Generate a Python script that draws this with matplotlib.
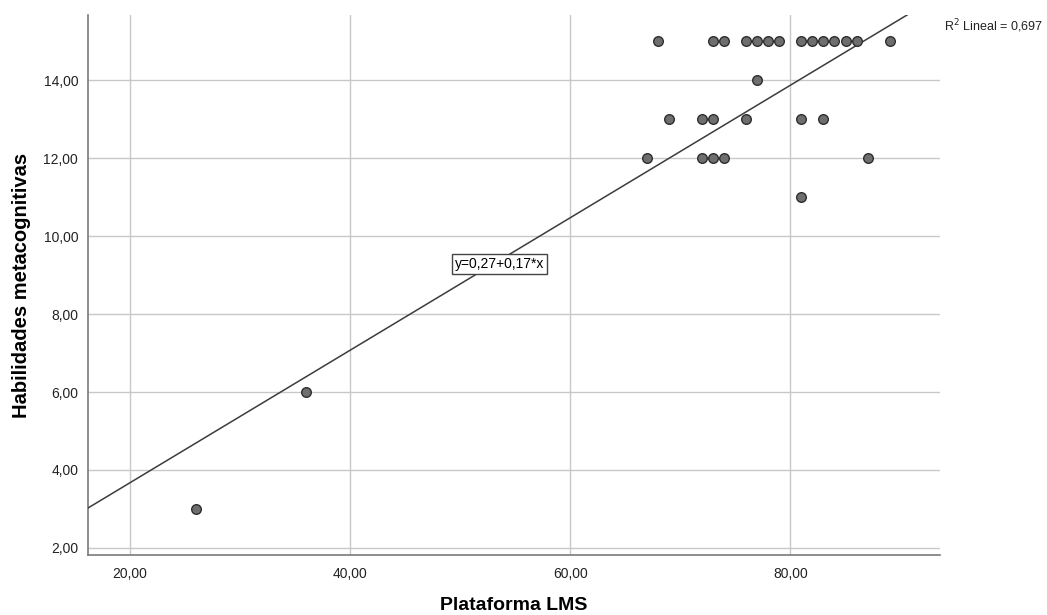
import numpy as np
import matplotlib.pyplot as plt
from matplotlib.ticker import FuncFormatter

plt.rcParams['font.family'] = ['Liberation Sans', 'DejaVu Sans']

# Plataforma LMS (x) vs Habilidades metacognitivas (y)
lms = [68, 73, 74, 76, 77, 78, 79, 81, 82, 83, 84, 85, 86, 89,
       77,
       69, 72, 73, 76, 81, 83,
       67, 72, 73, 74, 87,
       81, 36, 26]
hab = [15, 15, 15, 15, 15, 15, 15, 15, 15, 15, 15, 15, 15, 15,
       14,
       13, 13, 13, 13, 13, 13,
       12, 12, 12, 12, 12,
       11, 6, 3]

# fit line as printed on the chart
intercept, slope = 0.27, 0.17

x_ticks = [20, 40, 60, 80]
y_ticks = [2, 4, 6, 8, 10, 12, 14]

x = np.array(lms, dtype=float)
y = np.array(hab, dtype=float)

fig = plt.figure(figsize=(10.47, 6.15), dpi=100)
ax = fig.add_axes([0.084, 0.0976, 0.814, 0.878])

xmin, xmax = 16.2, 93.6
ax.set_xlim(xmin, xmax)
ax.set_ylim(1.82, 15.67)

ax.set_xticks(x_ticks)
ax.set_yticks(y_ticks)
fmt = FuncFormatter(lambda v, p: ('%.2f' % v).replace('.', ','))
ax.xaxis.set_major_formatter(fmt)
ax.yaxis.set_major_formatter(fmt)
ax.tick_params(length=0, labelsize=10, colors='#222222')
ax.tick_params(axis='y', pad=7)
ax.tick_params(axis='x', pad=9)

ax.grid(True, color='#c8c8c8', linewidth=1)
ax.set_axisbelow(True)
for s in ['top', 'right']:
    ax.spines[s].set_visible(False)
for s in ['left', 'bottom']:
    ax.spines[s].set_color('#7a7a7a')
    ax.spines[s].set_linewidth(1.2)

xs = np.array([xmin, xmax])
ax.plot(xs, intercept + slope * xs, color='#3c3c3c', linewidth=1.1, zorder=3)

ax.scatter(x, y, s=48, color='#6e6e6e', edgecolors='#2e2e2e', linewidths=1.0, zorder=4)

ax.text(53.6, 9.28, 'y=0,27+0,17*x', fontsize=10, ha='center', va='center',
        bbox=dict(boxstyle='square,pad=0.2', facecolor='white', edgecolor='#444444', linewidth=1),
        zorder=5)

fig.text(0.9485, 0.958, 'R$^2$ Lineal = 0,697', fontsize=9, ha='center', va='center', color='#222222')

ax.set_xlabel('Plataforma LMS', fontsize=14, fontweight='bold', labelpad=11)
ax.set_ylabel('Habilidades metacognitivas', fontsize=14.5, fontweight='bold', labelpad=9)

fig.savefig('out.png', dpi=100)
